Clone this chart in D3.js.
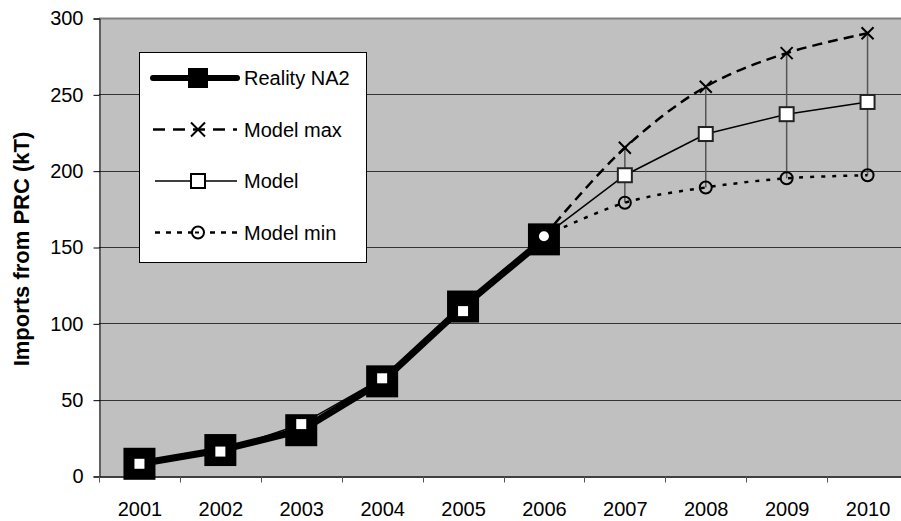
<!DOCTYPE html>
<html>
<head>
<meta charset="utf-8">
<script src="https://cdn.jsdelivr.net/npm/d3@7"></script>
<style>
  body { margin: 0; background: #fff; overflow: hidden; }
  text { font-family: "Liberation Sans", Arial, sans-serif; }
</style>
</head>
<body>
<div id="chart"></div>
<script>
const years = ["2001", "2002", "2003", "2004", "2005", "2006", "2007", "2008", "2009", "2010"];
const reality = [8, 17, 30, 62, 111, 155, null, null, null, null];
const model = [8, 16, 34, 64, 108, 157, 197, 224, 237, 245];
const modelMax = [null, null, null, null, null, 157, 215, 255, 277, 290];
const modelMin = [null, null, null, null, null, 157, 179, 189, 195, 197];
const yTicks = [0, 50, 100, 150, 200, 250, 300];
const legendLabels = ["Reality NA2", "Model max", "Model", "Model min"];

const width = 901;
const height = 521;
// the plot runs a few pixels past the right edge of the picture
const plotRight = 908;
const margin = { left: 99, top: 18, bottom: 45 };
const bg = "#c0c0c0";
const fontFamily = "Liberation Sans, Arial, sans-serif";

const svg = d3.select("#chart").append("svg")
  .attr("width", width)
  .attr("height", height);

const x = d3.scaleBand()
  .domain(years)
  .range([margin.left, plotRight]);

const y = d3.scaleLinear()
  .domain([0, 300])
  .range([height - margin.bottom, margin.top]);

const cx = (i) => x(years[i]) + x.bandwidth() / 2;

// plot background
svg.append("rect")
  .attr("x", margin.left)
  .attr("y", margin.top)
  .attr("width", plotRight - margin.left)
  .attr("height", y(0) - margin.top)
  .attr("fill", bg);

// grid lines
svg.append("g")
  .selectAll("line")
  .data(yTicks.slice(1))
  .join("line")
  .attr("x1", margin.left)
  .attr("x2", plotRight)
  .attr("y1", (d) => Math.round(y(d)) + 0.5)
  .attr("y2", (d) => Math.round(y(d)) + 0.5)
  .attr("stroke", (d) => (d === 300 ? "#808080" : "#333"))
  .attr("stroke-width", (d) => (d === 300 ? 2 : 1));

// axes
const yAxis = svg.append("g")
  .attr("transform", `translate(${margin.left + 0.5},0.5)`)
  .call(d3.axisLeft(y).tickValues(yTicks).tickSize(6).tickPadding(10));
yAxis.select(".domain").attr("stroke", "#000");
yAxis.selectAll("text").attr("font-size", 20).attr("fill", "#000")
  .style("font-family", fontFamily);

const xAxis = svg.append("g")
  .attr("transform", `translate(0.5,${Math.round(y(0)) + 0.5})`)
  .call(d3.axisBottom(x).tickSize(0).tickPadding(25));
xAxis.select(".domain").attr("stroke", "#000").attr("stroke-width", 1.5);
xAxis.selectAll("text").attr("font-size", 20).attr("fill", "#000")
  .style("font-family", fontFamily);
xAxis.selectAll(".btick")
  .data(d3.range(years.length + 1))
  .join("line")
  .attr("class", "btick")
  .attr("x1", (i) => Math.round(margin.left + i * x.bandwidth()))
  .attr("x2", (i) => Math.round(margin.left + i * x.bandwidth()))
  .attr("y1", 0)
  .attr("y2", 6)
  .attr("stroke", "#555");

// y title
svg.append("text")
  .attr("transform", `translate(21,${(margin.top + y(0)) / 2 + 2}) rotate(-90)`)
  .attr("text-anchor", "middle")
  .attr("dy", "0.35em")
  .attr("font-size", 22)
  .attr("font-weight", "bold")
  .text("Imports from PRC (kT)");

const lineGen = d3.line()
  .defined((d) => d != null)
  .x((d, i) => cx(i))
  .y((d) => y(d));

// error bars
svg.append("g")
  .selectAll("line")
  .data(years.map((d, i) => i).filter((i) => modelMin[i] != null))
  .join("line")
  .attr("x1", (i) => cx(i))
  .attr("x2", (i) => cx(i))
  .attr("y1", (i) => y(modelMin[i]))
  .attr("y2", (i) => y(modelMax[i]))
  .attr("stroke", "#555")
  .attr("stroke-width", 1.5);

// lines
svg.append("path").attr("d", lineGen.curve(d3.curveCatmullRom)(modelMax))
  .attr("fill", "none").attr("stroke", "#000").attr("stroke-width", 2.5)
  .attr("stroke-dasharray", "10,6");
svg.append("path").attr("d", lineGen.curve(d3.curveCatmullRom)(modelMin))
  .attr("fill", "none").attr("stroke", "#000").attr("stroke-width", 2.5)
  .attr("stroke-dasharray", "4,7");
svg.append("path").attr("d", lineGen.curve(d3.curveLinear)(model))
  .attr("fill", "none").attr("stroke", "#000").attr("stroke-width", 1.5);
svg.append("path").attr("d", lineGen.curve(d3.curveLinear)(reality))
  .attr("fill", "none").attr("stroke", "#000").attr("stroke-width", 7)
  .attr("stroke-linejoin", "round");

// reality markers
svg.append("g")
  .selectAll("rect")
  .data(years.map((d, i) => i).filter((i) => reality[i] != null))
  .join("rect")
  .attr("x", (i) => cx(i) - 16)
  .attr("y", (i) => y(reality[i]) - 16)
  .attr("width", 32)
  .attr("height", 32)
  .attr("fill", "#000");

// model markers
const modelIdx = years.map((d, i) => i)
  .filter((i) => !(reality[i] != null && modelMin[i] != null));
svg.append("g")
  .selectAll("rect")
  .data(modelIdx)
  .join("rect")
  .attr("x", (i) => cx(i) - (reality[i] != null ? 5 : 7))
  .attr("y", (i) => y(model[i]) - (reality[i] != null ? 5 : 7))
  .attr("width", (i) => (reality[i] != null ? 10 : 14))
  .attr("height", (i) => (reality[i] != null ? 10 : 14))
  .attr("fill", "#fff")
  .attr("stroke", (i) => (reality[i] != null ? "none" : "#222"))
  .attr("stroke-width", 2);

// min markers
svg.append("g")
  .selectAll("circle")
  .data(years.map((d, i) => i).filter((i) => modelMin[i] != null))
  .join("circle")
  .attr("cx", (i) => cx(i))
  .attr("cy", (i) => y(modelMin[i]))
  .attr("r", (i) => (reality[i] != null ? 5 : 6))
  .attr("fill", (i) => (reality[i] != null ? "#fff" : "none"))
  .attr("stroke", (i) => (reality[i] != null ? "none" : "#000"))
  .attr("stroke-width", 2);

// max markers
const xSymbol = (g, px, py, s) => {
  g.append("path")
    .attr("d", `M${px - s},${py - s}L${px + s},${py + s}M${px - s},${py + s}L${px + s},${py - s}`)
    .attr("stroke", "#000")
    .attr("stroke-width", 2)
    .attr("fill", "none");
};
const maxG = svg.append("g");
years.forEach((d, i) => {
  if (modelMax[i] != null && reality[i] == null) xSymbol(maxG, cx(i), y(modelMax[i]), 6);
});

// legend
const legend = svg.append("g");
legend.append("rect")
  .attr("x", 139.5)
  .attr("y", 52.5)
  .attr("width", 227)
  .attr("height", 210)
  .attr("fill", "#fff")
  .attr("stroke", "#000");

const rowY = (i) => 78 + i * 51.5;
const lx1 = 153;
const lx2 = 237;
const lmx = 198;

legend.append("line").attr("x1", lx1).attr("x2", lx2).attr("y1", rowY(0)).attr("y2", rowY(0))
  .attr("stroke", "#000").attr("stroke-width", 6).attr("stroke-linecap", "round");
legend.append("rect").attr("x", lmx - 10).attr("y", rowY(0) - 10).attr("width", 20).attr("height", 20)
  .attr("fill", "#000");

legend.append("line").attr("x1", lx1).attr("x2", lx2).attr("y1", rowY(1)).attr("y2", rowY(1))
  .attr("stroke", "#000").attr("stroke-width", 2.5).attr("stroke-dasharray", "12,8");
xSymbol(legend, lmx, rowY(1), 7);

legend.append("line").attr("x1", lx1 + 2).attr("x2", lx2).attr("y1", rowY(2)).attr("y2", rowY(2))
  .attr("stroke", "#000").attr("stroke-width", 1.5);
legend.append("rect").attr("x", lmx - 7).attr("y", rowY(2) - 7).attr("width", 14).attr("height", 14)
  .attr("fill", "#fff").attr("stroke", "#000").attr("stroke-width", 2);

legend.append("line").attr("x1", lx1 + 2).attr("x2", lx2).attr("y1", rowY(3)).attr("y2", rowY(3))
  .attr("stroke", "#000").attr("stroke-width", 2.5).attr("stroke-dasharray", "5,6");
legend.append("circle").attr("cx", lmx).attr("cy", rowY(3)).attr("r", 6)
  .attr("fill", "#fff").attr("stroke", "#000").attr("stroke-width", 2);
legend.append("line").attr("x1", lmx - 3).attr("x2", lmx + 1).attr("y1", rowY(3)).attr("y2", rowY(3))
  .attr("stroke", "#000").attr("stroke-width", 2);

legend.selectAll(".ltext")
  .data(legendLabels)
  .join("text")
  .attr("class", "ltext")
  .attr("x", 244)
  .attr("y", (d, i) => rowY(i))
  .attr("dy", "0.35em")
  .attr("font-size", 20)
  .text((d) => d);
</script>
</body>
</html>
